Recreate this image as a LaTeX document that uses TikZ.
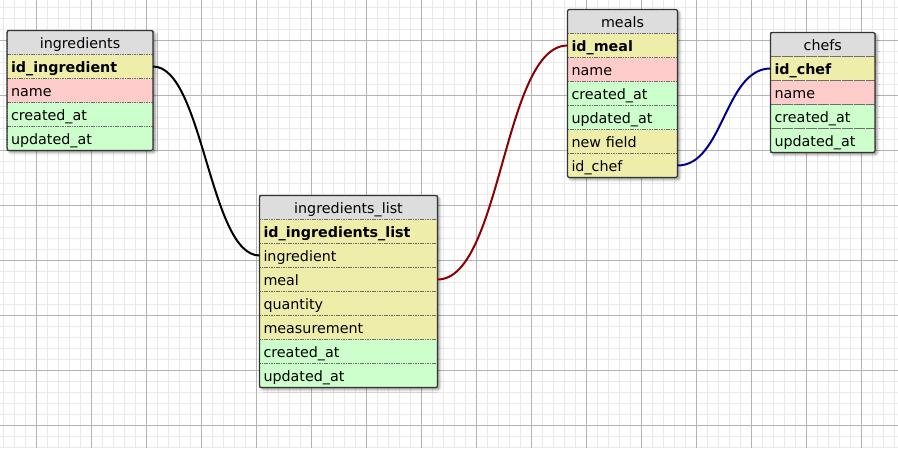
\documentclass[tikz,border=0pt]{standalone}
\usepackage{fontspec}
\setmainfont{DejaVu Sans}
\usetikzlibrary{positioning, backgrounds, shadows.blur}

\begin{document}
\begin{tikzpicture}[x=1pt, y=-1pt,
    font=\fontsize{14.3}{17}\selectfont,
    box/.style={minimum width=#1pt, text width=#1pt-8pt, minimum height=24pt,
        inner xsep=4pt, inner ysep=0pt, outer sep=0pt, text height=12pt, text depth=0pt,
        draw={rgb,255:red,110;green,110;blue,110}, dash pattern=on 1.2pt off 1.2pt},
    head/.style={box=#1, align=center, fill={rgb,255:red,221;green,221;blue,221}},
    keyrow/.style={box=#1, fill={rgb,255:red,238;green,238;blue,170}},
    namerow/.style={box=#1, fill={rgb,255:red,255;green,204;blue,204}},
    daterow/.style={box=#1, fill={rgb,255:red,204;green,255;blue,204}},
    frame/.style={draw={rgb,255:red,51;green,51;blue,51}, line width=1.2pt, rounded corners=2pt},
    shade/.style={fill=white, rounded corners=2pt, blur shadow={shadow xshift=2pt,
        shadow yshift=-2pt, shadow blur radius=2.5pt, shadow opacity=45}},
    link/.style={line width=2pt},
    minor/.style={draw={rgb,255:red,234;green,234;blue,234}, line width=1pt},
    major/.style={draw={rgb,255:red,180;green,180;blue,180}, line width=1pt}]
    \useasboundingbox (0,0) rectangle (898,448);

    \node [head=146, anchor=north west] (ing) at (7,30.5) {ingredients};
    \node [keyrow=146, below=0pt of ing] (ing-id) {\bfseries id\_ingredient};
    \node [namerow=146, below=0pt of ing-id] (ing-name) {name};
    \node [daterow=146, below=0pt of ing-name] (ing-cre) {created\_at};
    \node [daterow=146, below=0pt of ing-cre] (ing-upd) {updated\_at};
    \draw [frame] (ing.north west) rectangle (ing-upd.south east);

    \node [head=178, anchor=north west] (il) at (259.5,195.5) {ingredients\_list};
    \node [keyrow=178, below=0pt of il] (il-id) {\bfseries id\_ingredients\_list};
    \node [keyrow=178, below=0pt of il-id] (il-ing) {ingredient};
    \node [keyrow=178, below=0pt of il-ing] (il-meal) {meal};
    \node [keyrow=178, below=0pt of il-meal] (il-qty) {quantity};
    \node [keyrow=178, below=0pt of il-qty] (il-meas) {measurement};
    \node [daterow=178, below=0pt of il-meas] (il-cre) {created\_at};
    \node [daterow=178, below=0pt of il-cre] (il-upd) {updated\_at};
    \draw [frame] (il.north west) rectangle (il-upd.south east);

    \node [head=110, anchor=north west] (meal) at (567.5,9.5) {meals};
    \node [keyrow=110, below=0pt of meal] (meal-id) {\bfseries id\_meal};
    \node [namerow=110, below=0pt of meal-id] (meal-name) {name};
    \node [daterow=110, below=0pt of meal-name] (meal-cre) {created\_at};
    \node [daterow=110, below=0pt of meal-cre] (meal-upd) {updated\_at};
    \node [keyrow=110, below=0pt of meal-upd] (meal-new) {new field};
    \node [keyrow=110, below=0pt of meal-new] (meal-chef) {id\_chef};
    \draw [frame] (meal.north west) rectangle (meal-chef.south east);

    \node [head=104.5, anchor=north west] (chef) at (770.5,32.5) {chefs};
    \node [keyrow=104.5, below=0pt of chef] (chef-id) {\bfseries id\_chef};
    \node [namerow=104.5, below=0pt of chef-id] (chef-name) {name};
    \node [daterow=104.5, below=0pt of chef-name] (chef-cre) {created\_at};
    \node [daterow=104.5, below=0pt of chef-cre] (chef-upd) {updated\_at};
    \draw [frame] (chef.north west) rectangle (chef-upd.south east);

    \draw [link, draw=black] (ing-id.east) .. controls +(50,0) and +(-50,0) .. (il-ing.west);
    \draw [link, draw={rgb,255:red,139;green,0;blue,0}] (il-meal.east) .. controls +(64,0) and +(-64,0) .. (meal-id.west);
    \draw [link, draw={rgb,255:red,0;green,0;blue,139}] (meal-chef.east) .. controls +(46,0) and +(-46,0) .. (chef-id.west);

    \begin{scope}[on background layer]
        \foreach \gx in {3.5,14.5,...,898} \draw [minor] (\gx,0) -- (\gx,448);
        \foreach \gy in {7.5,18.5,...,448} \draw [minor] (0,\gy) -- (898,\gy);
        \foreach \gx in {36.5,91.5,...,898} \draw [major] (\gx,0) -- (\gx,448);
        \foreach \gy in {40.5,95.5,...,448} \draw [major] (0,\gy) -- (898,\gy);
        \path [shade] (ing.north west) rectangle (ing-upd.south east);
        \path [shade] (il.north west) rectangle (il-upd.south east);
        \path [shade] (meal.north west) rectangle (meal-chef.south east);
        \path [shade] (chef.north west) rectangle (chef-upd.south east);
    \end{scope}
\end{tikzpicture}
\end{document}
